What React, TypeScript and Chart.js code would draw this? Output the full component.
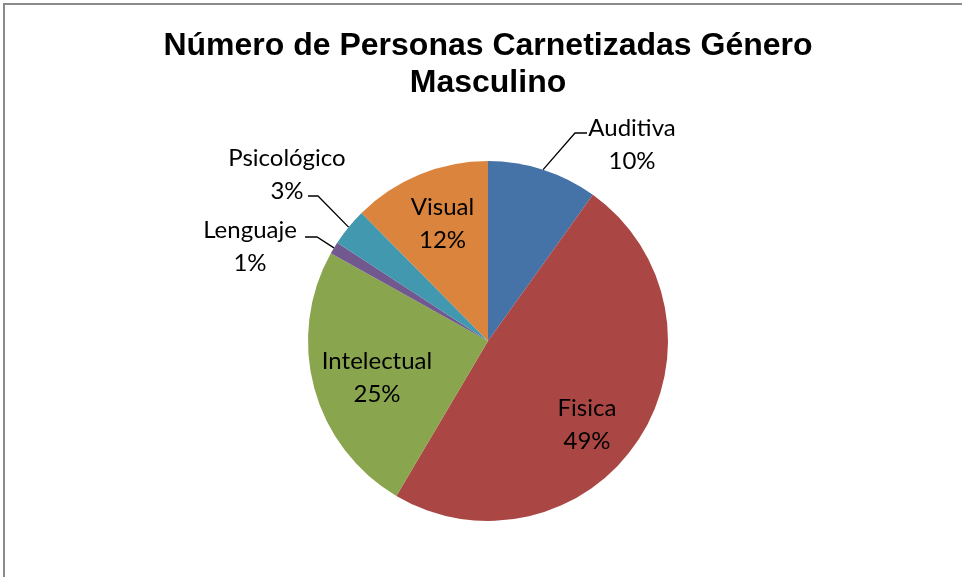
import { useEffect, useRef } from "react";
import { Chart, registerables } from "chart.js";

Chart.register(...registerables);

const titleLines = ["Número de Personas Carnetizadas Género", "Masculino"];
const categories = ["Auditiva", "Fisica", "Intelectual", "Lenguaje", "Psicológico", "Visual"];
const shares = [9.9, 48.6, 24.6, 1.1, 3.4, 12.4];
const sliceColors = ["#4572A7", "#AA4643", "#89A54E", "#71588F", "#4198AF", "#DB843D"];

// label placement (pixel offsets from pie centre) – style only
const placements: { dx: number; dy: number; leader?: number[][] }[] = [
  { dx: 144, dy: -205, leader: [[87, -208], [99, -208]] },
  { dx: 99, dy: 75 },
  { dx: -111, dy: 28 },
  { dx: -238, dy: -103, leader: [[-171, -104], [-183, -104]] },
  { dx: -201, dy: -175, leader: [[-170, -145], [-180, -145]] },
  { dx: -45.5, dy: -126 },
];

const LABEL_FONT = '24px Lato, "Noto Sans", sans-serif';
const LINE_GAP = 33;

const decorPlugin = {
  id: "decor",
  beforeDraw(chart: any) {
    const ctx = chart.ctx;
    ctx.save();
    ctx.fillStyle = "#ffffff";
    ctx.fillRect(0, 0, chart.width, chart.height);
    ctx.strokeStyle = "#8a8a8a";
    ctx.lineWidth = 2;
    ctx.beginPath();
    ctx.moveTo(4, chart.height + 2);
    ctx.lineTo(4, 4);
    ctx.lineTo(chart.width + 2, 4);
    ctx.stroke();
    ctx.restore();
  },
  afterDatasetsDraw(chart: any) {
    const ctx = chart.ctx;
    const meta = chart.getDatasetMeta(0);
    const total = shares.reduce((a, b) => a + b, 0);
    ctx.save();
    meta.data.forEach((arc: any, i: number) => {
      const { x, y, startAngle, endAngle, outerRadius } = arc.getProps(
        ["x", "y", "startAngle", "endAngle", "outerRadius"],
        true
      );
      const mid = (startAngle + endAngle) / 2;
      const p = placements[i];
      if (p.leader) {
        ctx.strokeStyle = "#000000";
        ctx.lineWidth = 1.3;
        ctx.beginPath();
        ctx.moveTo(x + outerRadius * Math.cos(mid), y + outerRadius * Math.sin(mid));
        p.leader.forEach((pt) => ctx.lineTo(x + pt[0], y + pt[1]));
        ctx.stroke();
      }
      const pct = Math.round((shares[i] / total) * 100) + "%";
      ctx.fillStyle = "#000000";
      ctx.font = LABEL_FONT;
      ctx.textAlign = "center";
      ctx.textBaseline = "alphabetic";
      ctx.fillText(categories[i], x + p.dx, y + p.dy);
      ctx.fillText(pct, x + p.dx, y + p.dy + LINE_GAP);
    });
    // title
    const cx = meta.data[0].x;
    ctx.font = 'bold 32px "Liberation Sans", Arial, sans-serif';
    ctx.fillStyle = "#000000";
    ctx.textAlign = "center";
    ctx.fillText(titleLines[0], cx, 55);
    ctx.fillText(titleLines[1], cx, 92);
    ctx.restore();
  },
};

export default function App() {
  const ref = useRef<HTMLCanvasElement | null>(null);
  useEffect(() => {
    if (!ref.current) return;
    const chart = new Chart(ref.current, {
      type: "pie",
      data: {
        labels: categories,
        datasets: [
          {
            data: shares,
            backgroundColor: sliceColors,
            borderWidth: 0,
          },
        ],
      },
      options: {
        responsive: false,
        animation: false,
        layout: { padding: { left: 308, right: 294, top: 161, bottom: 56 } },
        plugins: {
          legend: { display: false },
          title: { display: false },
          tooltip: { enabled: false },
        },
      },
      plugins: [decorPlugin],
    });
    return () => chart.destroy();
  }, []);
  return (
    <div style={{ position: "fixed", left: 0, top: 0, width: 962, height: 577, background: "#fff" }}>
      <canvas ref={ref} width={962} height={577} style={{ display: "block" }} />
    </div>
  );
}
